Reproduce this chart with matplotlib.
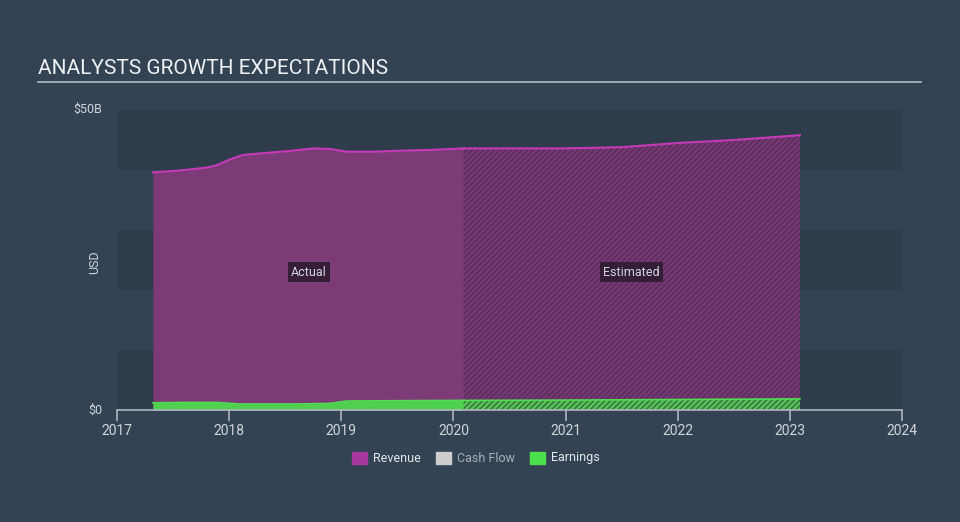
import matplotlib
matplotlib.use("Agg")
import matplotlib.pyplot as plt
import numpy as np

plt.rcParams['font.family'] = ['Roboto', 'DejaVu Sans']
plt.rcParams['hatch.linewidth'] = 0.8

# Data (years as decimal, values in $B)
rev_act_x = [2017.32, 2017.55, 2017.80, 2017.89, 2018.00, 2018.12, 2018.30, 2018.55, 2018.75, 2018.90, 2019.05, 2019.30, 2019.50, 2019.80, 2020.09]
rev_act_y = [39.6, 39.9, 40.4, 40.8, 41.7, 42.5, 42.8, 43.2, 43.6, 43.5, 43.05, 43.05, 43.2, 43.35, 43.6]
rev_est_x = [2020.09, 2020.50, 2021.00, 2021.50, 2022.00, 2022.50, 2023.09]
rev_est_y = [43.6, 43.6, 43.6, 43.8, 44.5, 45.0, 45.8]

earn_act_x = [2017.32, 2017.55, 2017.89, 2018.10, 2018.30, 2018.60, 2018.90, 2019.05, 2019.50, 2020.09]
earn_act_y = [1.2, 1.25, 1.25, 1.0, 1.0, 1.0, 1.1, 1.5, 1.55, 1.6]
earn_est_x = [2020.09, 2021.00, 2022.00, 2023.09]
earn_est_y = [1.6, 1.65, 1.75, 1.85]

years = [2017, 2018, 2019, 2020, 2021, 2022, 2023, 2024]
legend_labels = ["Revenue", "Cash Flow", "Earnings"]

BG = "#344354"
BAND = "#2f3c4b"
REV_LINE = "#c53ab6"
REV_FILL = "#7c3a76"
EARN_LINE = "#52de52"
EARN_FILL = "#4fd14f"
TXT = "#d0d5db"

fig = plt.figure(figsize=(9.6, 5.22), dpi=100, facecolor=BG)
W, H = 960, 522
ax = fig.add_axes([117 / W, (H - 410) / H, (902 - 117) / W, 300 / H])
ax.set_facecolor(BG)
ax.set_xlim(2017, 2024)
ax.set_ylim(0, 50)

for lo in (0, 20, 40):
    ax.axhspan(lo, lo + 10, color=BAND, zorder=0, lw=0)

# Revenue actual
ax.fill_between(rev_act_x, 0, rev_act_y, color=REV_FILL, lw=0, zorder=2)
ax.plot(rev_act_x, rev_act_y, color=REV_LINE, lw=1.5, zorder=3)
# Revenue estimated (hatched)
ax.fill_between(rev_est_x, 0, rev_est_y, facecolor="#763872", edgecolor="#4e2c55",
                hatch="//////", lw=0, zorder=2)
ax.plot(rev_est_x, rev_est_y, color=REV_LINE, lw=1.5, zorder=3)

# Earnings actual
ax.fill_between(earn_act_x, 0, earn_act_y, color=EARN_FILL, lw=0, zorder=4)
ax.plot(earn_act_x, earn_act_y, color=EARN_LINE, lw=1.2, zorder=5)
ax.fill_between(earn_est_x, 0, earn_est_y, facecolor="#55c055", edgecolor="#2f5f3a",
                hatch="//////", lw=0, zorder=4)
ax.plot(earn_est_x, earn_est_y, color=EARN_LINE, lw=1.2, zorder=5)

for s in ("top", "right", "left"):
    ax.spines[s].set_visible(False)
ax.spines["bottom"].set_color("#aeb6c0")
ax.spines["bottom"].set_linewidth(1.2)
ax.spines["bottom"].set_zorder(6)
ax.set_xticks(years)
ax.set_xticklabels([str(y) for y in years], color=TXT, fontsize=10)
ax.tick_params(axis="x", length=8, width=1.2, color="#aeb6c0", pad=2)
ax.set_yticks([])

bbox = dict(boxstyle="square,pad=0.25", fc="#2b1a2e", ec="none", alpha=0.85)
ax.text(2018.71, 23, "Actual", color=TXT, fontsize=9, ha="center", va="center", bbox=bbox, zorder=7)
ax.text(2021.59, 23, "Estimated", color=TXT, fontsize=9, ha="center", va="center", bbox=bbox, zorder=7)

# y labels
fig.text(102 / W, 1 - 109 / H, "$50B", color=TXT, fontsize=9, ha="right", va="center")
fig.text(102 / W, 1 - 410 / H, "$0", color=TXT, fontsize=9, ha="right", va="center")
fig.text(95 / W, 1 - 262 / H, "USD", color=TXT, fontsize=9, ha="center", va="center", rotation=90)

# title
fig.text(38 / W, 1 - 68 / H, "ANALYSTS GROWTH EXPECTATIONS", color="#eef0f2", fontsize=15, ha="left", va="center")
fig.add_artist(plt.Line2D([38 / W, 921 / W], [1 - 82 / H, 1 - 82 / H], color="#b4bcc6", lw=1.2))

# legend
legend_colors = ["#a8389e", "#cccccc", "#4de04d"]
legend_text_colors = ["#e4e7ea", "#a9b0b8", "#e4e7ea"]
leg_x = [352, 436, 530]
for x0, lab, c, tc in zip(leg_x, legend_labels, legend_colors, legend_text_colors):
    fig.add_artist(plt.Rectangle((x0 / W, 1 - 464 / H), 15 / W, 12 / H, color=c))
    fig.text((x0 + 21) / W, 1 - 458 / H, lab, color=tc, fontsize=9, ha="left", va="center")

fig.savefig("out.png", dpi=100, facecolor=BG)
